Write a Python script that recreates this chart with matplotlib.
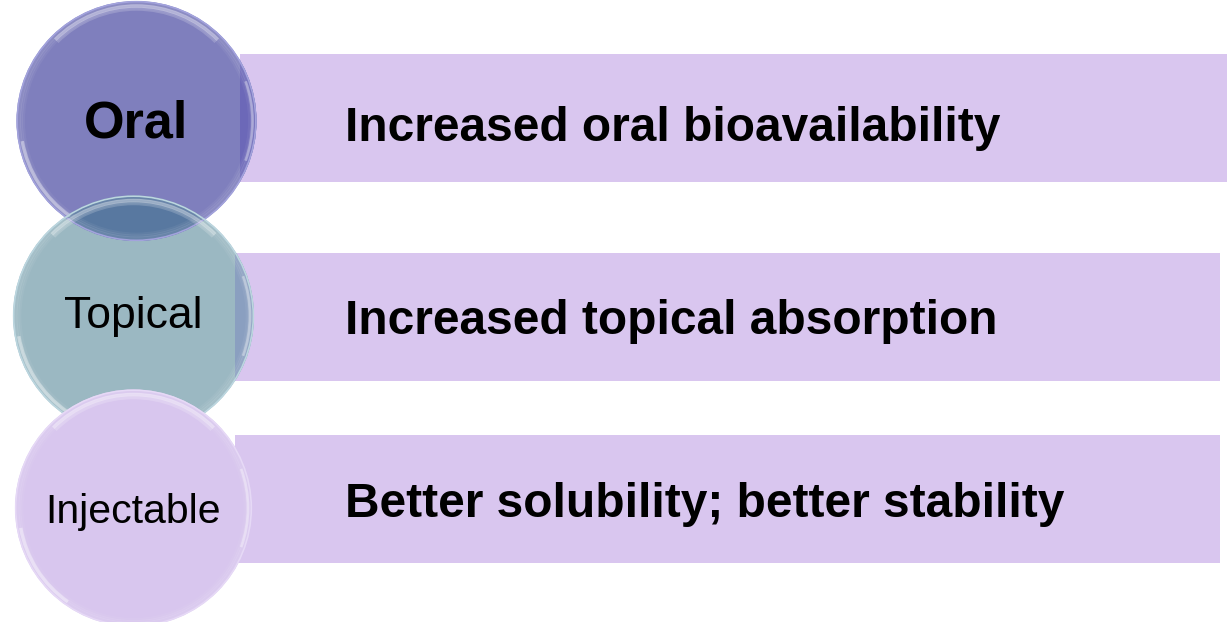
import matplotlib
matplotlib.use("Agg")
import matplotlib.pyplot as plt
from matplotlib.patches import Circle, Rectangle, Arc

plt.rcParams["font.family"] = ["Liberation Sans", "DejaVu Sans"]

# Content
routes = ["Oral", "Topical", "Injectable"]
benefits = [
    "Increased oral bioavailability",
    "Increased topical absorption",
    "Better solubility; better stability",
]
route_weights = ["bold", "normal", "normal"]
route_sizes = [37.5, 32, 29.5]

# Layout (pixel units, y grows downward)
circle_centers = [(136.5, 121), (133.5, 316), (133.5, 508)]
circle_radius = [120, 120.5, 118.5]
circle_colors = ["#7f7fbd", "#9bb8c2", "#d8c6ee"]
circle_edges = ["#a3a3dc", "#bcd6df", "#e6d9f6"]
bar_x0 = [240, 235, 235]
bar_x1 = [1227, 1220, 1220]
bar_y0 = [54, 253, 435]
bar_y1 = [182, 381, 563]
bar_color = "#d9c6ef"
strip_colors = ["#6c68b8", "#8a9fc0", "#d8c6ee"]
route_baselines = [138, 328, 523]
benefit_baselines = [141, 334, 517]

fig = plt.figure(figsize=(12.32, 6.22), dpi=100)
ax = fig.add_axes([0, 0, 1, 1])
ax.set_xlim(0, 1232)
ax.set_ylim(622, 0)
ax.set_aspect("equal")
ax.axis("off")

# Bars
for i in range(3):
    ax.add_patch(Rectangle((bar_x0[i], bar_y0[i]), bar_x1[i] - bar_x0[i],
                           bar_y1[i] - bar_y0[i], fc=bar_color, ec="none", zorder=1))

def circ(i, **kw):
    return Circle(circle_centers[i], circle_radius[i], **kw)

# Circle fills: topical below oral
ax.add_patch(circ(1, fc=circle_colors[1], ec="none", zorder=2))
ax.add_patch(circ(0, fc=circle_colors[0], ec="none", zorder=3))

# Lens where oral and topical overlap
lens = circ(1, fc="#5878a0", ec="none", zorder=4)
ax.add_patch(lens)
lens.set_clip_path(circ(0, transform=ax.transData))

# Bar segments seen through the circles
for i in range(2):
    s = Rectangle((bar_x0[i], bar_y0[i]), bar_x1[i] - bar_x0[i],
                  bar_y1[i] - bar_y0[i], fc=strip_colors[i], ec="none", zorder=4)
    ax.add_patch(s)
    s.set_clip_path(circ(i, transform=ax.transData))

ax.add_patch(circ(2, fc=circle_colors[2], ec="none", zorder=6))

# Glassy rims: soft bevel bands plus brighter highlight arcs
for i in range(3):
    z = 5 if i < 2 else 7
    cx, cy = circle_centers[i]
    r = circle_radius[i]
    ax.add_patch(Circle((cx, cy), r - 0.7, fc="none", ec=circle_edges[i], lw=1.2, zorder=z))
    for k, a in [(3, 0.10), (5, 0.08), (7, 0.05)]:
        ax.add_patch(Circle((cx, cy), r - k, fc="none", ec="white", lw=2, alpha=a, zorder=z))
    # top highlight
    for k, a in [(5, 0.35), (8, 0.18)]:
        ax.add_patch(Arc((cx, cy), 2 * (r - k), 2 * (r - k), theta1=225, theta2=315,
                         color="white", lw=2.5, alpha=a, zorder=z))
    # left/bottom highlight
    ax.add_patch(Arc((cx, cy), 2 * (r - 4), 2 * (r - 4), theta1=125, theta2=170,
                     color="white", lw=2.5, alpha=0.4, zorder=z))
    # right highlight
    ax.add_patch(Arc((cx, cy), 2 * (r - 4), 2 * (r - 4), theta1=-20, theta2=20,
                     color="white", lw=2, alpha=0.35, zorder=z))

# Labels
for i in range(3):
    cx, _ = circle_centers[i]
    ax.text(cx, route_baselines[i], routes[i], ha="center", va="baseline",
            fontsize=route_sizes[i], fontweight=route_weights[i], color="black", zorder=10)
    ax.text(345, benefit_baselines[i], benefits[i], ha="left", va="baseline",
            fontsize=34.5, fontweight="bold", color="black", zorder=10)

fig.savefig("out.png", dpi=100, facecolor="white")
